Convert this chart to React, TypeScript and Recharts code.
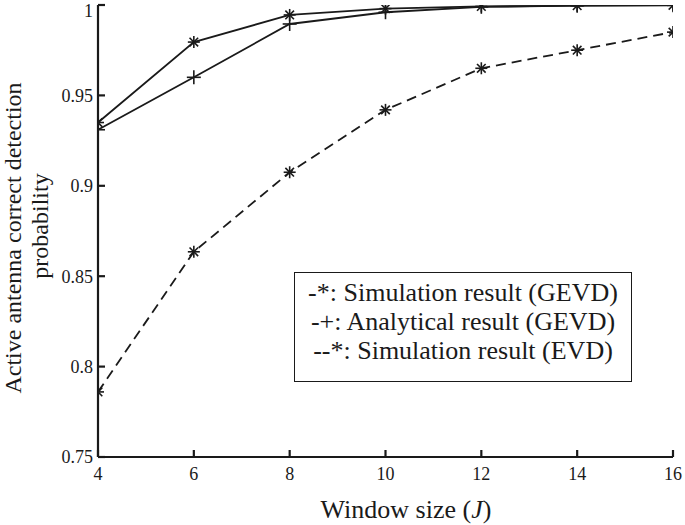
import { Line, LineChart, XAxis, YAxis } from 'recharts';

const windowSizes = [4, 6, 8, 10, 12, 14, 16];
const simGevd = [0.935, 0.9795, 0.9945, 0.998, 0.9992, 0.9996, 0.9998];
const anaGevd = [0.931, 0.96, 0.9895, 0.996, 0.999, 0.9996, 0.9999];
const simEvd = [0.786, 0.8635, 0.9075, 0.942, 0.965, 0.975, 0.985];

const xTicks = [4, 6, 8, 10, 12, 14, 16];
const yTicks = [0.75, 0.8, 0.85, 0.9, 0.95, 1];

const legendLines = [
  '-*: Simulation result (GEVD)',
  '-+: Analytical result (GEVD)',
  '--*: Simulation result (EVD)',
];

const INK = '#1a1a1a';
const FONT = '"Liberation Serif", "Times New Roman", serif';
const TICK = { fontSize: 18, fill: INK, fontFamily: FONT };
const FRAME = { stroke: INK, strokeWidth: 2.2 };

const data = windowSizes.map((J, i) => ({
  J,
  simGevd: simGevd[i],
  anaGevd: anaGevd[i],
  simEvd: simEvd[i],
}));

function Asterisk(props: any) {
  const { cx, cy, index } = props;
  if (cx == null || cy == null) return <g key={`a-${index}`} />;
  const r = 6;
  const d = 4.3;
  return (
    <g key={`a-${index}`} stroke={INK} strokeWidth={1.6}>
      <line x1={cx - r} y1={cy} x2={cx + r} y2={cy} />
      <line x1={cx} y1={cy - r} x2={cx} y2={cy + r} />
      <line x1={cx - d} y1={cy - d} x2={cx + d} y2={cy + d} />
      <line x1={cx - d} y1={cy + d} x2={cx + d} y2={cy - d} />
    </g>
  );
}

function Plus(props: any) {
  const { cx, cy, index } = props;
  if (cx == null || cy == null) return <g key={`p-${index}`} />;
  const r = 7;
  return (
    <g key={`p-${index}`} stroke={INK} strokeWidth={1.6}>
      <line x1={cx - r} y1={cy} x2={cx + r} y2={cy} />
      <line x1={cx} y1={cy - r} x2={cx} y2={cy + r} />
    </g>
  );
}

function YTitle() {
  return (
    <g fill={INK} fontFamily={FONT} fontSize={24}>
      <text x={21} y={238} textAnchor="middle" transform="rotate(-90, 21, 238)">
        Active antenna correct detection
      </text>
      <text x={48} y={226} textAnchor="middle" transform="rotate(-90, 48, 226)">
        probability
      </text>
    </g>
  );
}

function XTitle() {
  return (
    <text x={406} y={518} textAnchor="middle" fill={INK} fontFamily={FONT} fontSize={26}>
      <tspan>Window size (</tspan>
      <tspan fontStyle="italic">J</tspan>
      <tspan>)</tspan>
    </text>
  );
}

export default function App() {
  return (
    <div style={{ position: 'absolute', left: 0, top: 0, width: 685, height: 525, background: '#fff' }}>
      <LineChart width={685} height={525} data={data} margin={{ top: 5, right: 12, left: 0, bottom: 0 }}>
        <XAxis
          dataKey="J"
          type="number"
          domain={[4, 16]}
          ticks={xTicks}
          allowDataOverflow
          height={68}
          tick={TICK}
          tickSize={-7}
          tickMargin={17}
          tickLine={FRAME}
          axisLine={FRAME}
          label={{ content: () => <XTitle /> }}
        />
        <XAxis
          xAxisId="top"
          orientation="top"
          type="number"
          domain={[4, 16]}
          ticks={xTicks}
          allowDataOverflow
          height={0}
          tickSize={-7}
          tickFormatter={() => ''}
          tickLine={FRAME}
          axisLine={FRAME}
        />
        <YAxis
          type="number"
          domain={[0.75, 1]}
          ticks={yTicks}
          allowDataOverflow
          width={98}
          tick={TICK}
          tickSize={-7}
          tickMargin={12}
          tickLine={FRAME}
          axisLine={FRAME}
          label={{ content: () => <YTitle /> }}
        />
        <YAxis
          yAxisId="right"
          orientation="right"
          type="number"
          domain={[0.75, 1]}
          ticks={yTicks}
          allowDataOverflow
          width={0}
          tickSize={-7}
          tickFormatter={() => ''}
          tickLine={FRAME}
          axisLine={FRAME}
        />
        <Line
          type="linear"
          dataKey="simEvd"
          stroke={INK}
          strokeWidth={1.8}
          strokeDasharray="10 6"
          dot={Asterisk}
          activeDot={false}
          isAnimationActive={false}
        />
        <Line
          type="linear"
          dataKey="anaGevd"
          stroke={INK}
          strokeWidth={1.8}
          dot={Plus}
          activeDot={false}
          isAnimationActive={false}
        />
        <Line
          type="linear"
          dataKey="simGevd"
          stroke={INK}
          strokeWidth={1.8}
          dot={Asterisk}
          activeDot={false}
          isAnimationActive={false}
        />
      </LineChart>
      <div
        style={{
          position: 'absolute',
          left: 294,
          top: 272,
          width: 338,
          height: 110,
          boxSizing: 'border-box',
          border: `1.5px solid ${INK}`,
          background: '#fff',
          paddingTop: 5,
          fontFamily: FONT,
          fontSize: 26,
          lineHeight: '29px',
          color: INK,
          textAlign: 'center',
          whiteSpace: 'nowrap',
        }}
      >
        {legendLines.map((t) => (
          <div key={t}>{t}</div>
        ))}
      </div>
    </div>
  );
}
